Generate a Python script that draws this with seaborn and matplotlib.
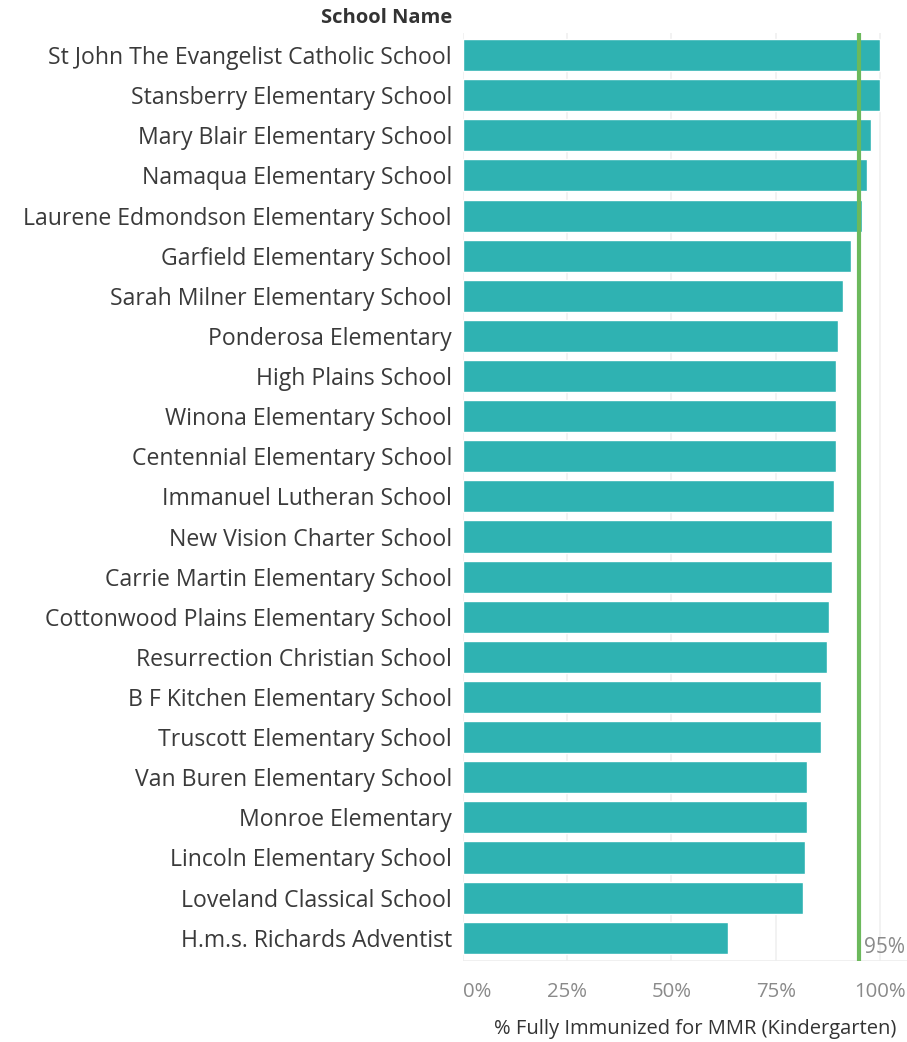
import numpy as np
import pandas as pd
import matplotlib
matplotlib.use("Agg")
import matplotlib.pyplot as plt
import seaborn as sns
from matplotlib.ticker import FuncFormatter

# ----------------------------
# Data
# ----------------------------
schools = [
    "St John The Evangelist Catholic School",
    "Stansberry Elementary School",
    "Mary Blair Elementary School",
    "Namaqua Elementary School",
    "Laurene Edmondson Elementary School",
    "Garfield Elementary School",
    "Sarah Milner Elementary School",
    "Ponderosa Elementary",
    "High Plains School",
    "Winona Elementary School",
    "Centennial Elementary School",
    "Immanuel Lutheran School",
    "New Vision Charter School",
    "Carrie Martin Elementary School",
    "Cottonwood Plains Elementary School",
    "Resurrection Christian School",
    "B F Kitchen Elementary School",
    "Truscott Elementary School",
    "Van Buren Elementary School",
    "Monroe Elementary",
    "Lincoln Elementary School",
    "Loveland Classical School",
    "H.m.s. Richards Adventist",
]
pct_mmr = [1.000, 1.000, 0.978, 0.969, 0.957, 0.930, 0.911, 0.899, 0.894,
           0.894, 0.894, 0.889, 0.884, 0.884, 0.877, 0.872, 0.858, 0.858,
           0.825, 0.825, 0.820, 0.815, 0.636]
target = 0.95
x_ticks = [0, 0.25, 0.5, 0.75, 1.0]

df = pd.DataFrame({"School Name": schools, "pct": pct_mmr})

# ----------------------------
# Style
# ----------------------------
sns.set_theme(style="white")
plt.rcParams["font.family"] = ["Open Sans", "DejaVu Sans"]

fig = plt.figure(figsize=(9.07, 10.42), dpi=100)
ax = fig.add_axes([463 / 907, 1 - 961 / 1042, 1 - 463 / 907, (961 - 33) / 1042])

sns.barplot(data=df, x="pct", y="School Name", color="#2fb2b2",
            saturation=1, width=0.8, ax=ax)

ax.set_xlim(0, 1.065)
ax.set_ylim(len(schools) - 0.5 + 0.08, -0.5 - 0.05)

# grid lines
for t in x_ticks:
    ax.axvline(t, color="#f0f0f0", lw=1.2, zorder=0)
ax.axhline(len(schools) - 0.5 + 0.08, color="#eeeeee", lw=1.2, zorder=0)

# reference line at 95%
ax.axvline(target, color="#6cb95c", lw=3, zorder=3)
ax.text(target + 0.012, len(schools) - 1 + 0.25, "95%", color="#8a8a8a",
        fontsize=15, va="center", ha="left", zorder=4)

for s in ax.spines.values():
    s.set_visible(False)

ax.set_xticks(x_ticks)
ax.xaxis.set_major_formatter(FuncFormatter(lambda v, p: f"{v*100:.0f}%"))
ax.tick_params(axis="x", length=0, labelsize=14.7, colors="#8a8a8a", pad=15)
xl = ax.get_xticklabels()
xl[0].set_horizontalalignment("left")
ax.tick_params(axis="y", length=0, labelsize=16.6, colors="#3a3a3a", pad=8)

ax.set_ylabel("")
ax.set_xlabel("% Fully Immunized for MMR (Kindergarten)", fontsize=14.5,
              color="#333333", fontweight="medium")
ax.xaxis.set_label_coords(0.975, -0.073)
ax.xaxis.label.set_horizontalalignment("right")
ax.xaxis.label.set_verticalalignment("center")

fig.text(452 / 907, 1 - 18 / 1042, "School Name", ha="right", va="center",
         fontsize=14.5, fontweight="bold", color="#333333")

fig.savefig("out.png", dpi=100)
